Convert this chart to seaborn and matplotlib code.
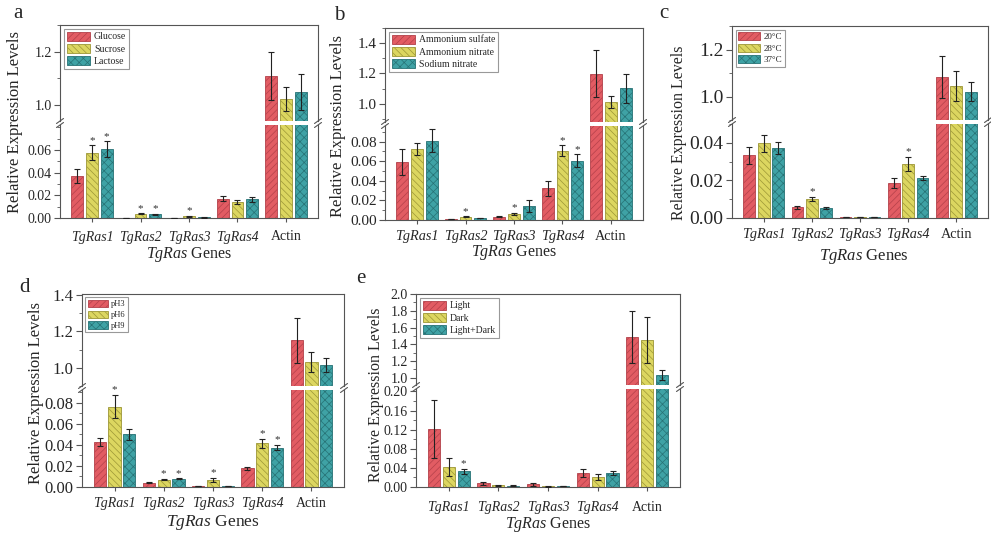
import numpy as np
import pandas as pd
import matplotlib
matplotlib.use('Agg')
import matplotlib.pyplot as plt
from matplotlib.lines import Line2D
from matplotlib.patches import Patch
from matplotlib.ticker import MultipleLocator, FixedLocator, FormatStrFormatter
from matplotlib.container import BarContainer
import seaborn as sns

# ---------------- data ----------------
genes = ['TgRas1', 'TgRas2', 'TgRas3', 'TgRas4', 'Actin']

# panel a : carbon source
a_conditions = ['Glucose', 'Sucrose', 'Lactose']
a_means = [[0.0374, 0.0003, 0.0002, 0.0170, 1.110],
           [0.0575, 0.0037, 0.0017, 0.0142, 1.022],
           [0.0608, 0.0034, 0.0005, 0.0164, 1.050]]
a_errors = [[0.0061, 0.0001, 0.0001, 0.0022, 0.090],
            [0.0065, 0.0003, 0.0004, 0.0020, 0.046],
            [0.0068, 0.0005, 0.0002, 0.0024, 0.068]]
a_stars = [(1, 0), (2, 0), (1, 1), (2, 1), (1, 2)]
a_lower_ticks = [0.00, 0.02, 0.04, 0.06]
a_upper_ticks = [1.0, 1.2]

# panel b : nitrogen source
b_conditions = ['Ammonium sulfate', 'Ammonium nitrate', 'Sodium nitrate']
b_means = [[0.0593, 0.0010, 0.0033, 0.0323, 1.198],
           [0.0727, 0.0033, 0.0063, 0.0707, 1.011],
           [0.0810, 0.0022, 0.0143, 0.0607, 1.101]]
b_errors = [[0.0137, 0.0002, 0.0006, 0.0073, 0.156],
            [0.0063, 0.0003, 0.0010, 0.0055, 0.040],
            [0.0120, 0.0003, 0.0062, 0.0063, 0.098]]
b_stars = [(1, 1), (1, 2), (1, 3), (2, 3)]
b_lower_ticks = [0.00, 0.02, 0.04, 0.06, 0.08]
b_upper_ticks = [1.0, 1.2, 1.4]

# panel c : temperature
c_conditions = ['20°C', '28°C', '37°C']
c_means = [[0.0334, 0.0056, 0.0004, 0.0188, 1.083],
           [0.0397, 0.0103, 0.0006, 0.0287, 1.044],
           [0.0372, 0.0052, 0.0004, 0.0212, 1.021]]
c_errors = [[0.0046, 0.0010, 0.0001, 0.0027, 0.090],
            [0.0046, 0.0010, 0.0001, 0.0038, 0.064],
            [0.0030, 0.0005, 0.0001, 0.0010, 0.042]]
c_stars = [(1, 1), (1, 3)]
c_lower_ticks = [0.00, 0.02, 0.04]
c_upper_ticks = [1.0, 1.2]

# panel d : pH
d_conditions = ['pH3', 'pH6', 'pH9']
d_means = [[0.0426, 0.0042, 0.0006, 0.0176, 1.150],
           [0.0762, 0.0070, 0.0064, 0.0416, 1.030],
           [0.0499, 0.0077, 0.0006, 0.0374, 1.016]]
d_errors = [[0.0035, 0.0003, 0.0001, 0.0015, 0.126],
            [0.0110, 0.0005, 0.0020, 0.0042, 0.054],
            [0.0050, 0.0005, 0.0001, 0.0025, 0.037]]
d_stars = [(1, 0), (1, 1), (2, 1), (1, 2), (1, 3), (2, 3)]
d_lower_ticks = [0.00, 0.02, 0.04, 0.06, 0.08]
d_upper_ticks = [1.0, 1.2, 1.4]

# panel e : light
e_conditions = ['Light', 'Dark', 'Light+Dark']
e_means = [[0.1210, 0.0078, 0.0057, 0.0290, 1.490],
           [0.0424, 0.0035, 0.0020, 0.0212, 1.450],
           [0.0325, 0.0030, 0.0020, 0.0290, 1.035]]
e_errors = [[0.0600, 0.0030, 0.0030, 0.0090, 0.310],
            [0.0190, 0.0010, 0.0010, 0.0060, 0.270],
            [0.0060, 0.0010, 0.0008, 0.0040, 0.055]]
e_stars = [(2, 0)]
e_lower_ticks = [0.00, 0.04, 0.08, 0.12, 0.16, 0.20]
e_upper_ticks = [1.0, 1.2, 1.4, 1.6, 1.8, 2.0]

# ---------------- style ----------------
sns.set_style('ticks')
plt.rcParams['font.family'] = ['Liberation Serif', 'DejaVu Serif']
plt.rcParams['mathtext.fontset'] = 'custom'
plt.rcParams['mathtext.it'] = 'Liberation Serif:italic'
plt.rcParams['mathtext.rm'] = 'Liberation Serif'
plt.rcParams['hatch.linewidth'] = 0.5
plt.rcParams['axes.linewidth'] = 0.8

fill_colors = ['#E25C63', '#DCD660', '#3FA2A5']
edge_colors = ['#B3414A', '#9C9636', '#277275']
hatches = ['/////', '\\\\\\\\\\', 'xxxx']
spine_color = '#555555'

W, H = 991, 534
fig = plt.figure(figsize=(W / 100, H / 100), dpi=100)


def fx(px):
    return px / W


def fy(py):
    return 1 - py / H


panels = [
    dict(letter='a', letter_pos=(13, 18), conds=a_conditions, means=a_means, errs=a_errors,
         stars=a_stars, box=(60, 25, 318, 218, 123), low=(0, 0.082), up=(0.94, 1.30),
         low_ticks=a_lower_ticks, up_ticks=a_upper_ticks, low_minor=0.01, up_minor=0.1,
         ytick_fs=10, xtick_fs=10, xtick_pad=6, ylab=(15, 122, 12), xlab=(189, 255, 11.5), leg_fs=7),
    dict(letter='b', letter_pos=(334, 20), conds=b_conditions, means=b_means, errs=b_errors,
         stars=b_stars, box=(385, 28, 643, 220, 124), low=(0, 0.096), up=(0.88, 1.50),
         low_ticks=b_lower_ticks, up_ticks=b_upper_ticks, low_minor=0.01, up_minor=0.1,
         ytick_fs=11, xtick_fs=10.3, xtick_pad=4, ylab=(338, 126, 12), xlab=(514, 252, 11.5), leg_fs=7),
    dict(letter='c', letter_pos=(659, 18), conds=c_conditions, means=c_means, errs=c_errors,
         stars=c_stars, box=(732, 26, 988, 218, 122), low=(0, 0.050), up=(0.90, 1.30),
         low_ticks=c_lower_ticks, up_ticks=c_upper_ticks, low_minor=0.01, up_minor=0.1,
         ytick_fs=14, xtick_fs=10.3, xtick_pad=4, ylab=(679, 133, 11.5), xlab=(864, 256, 12), leg_fs=6.5),
    dict(letter='d', letter_pos=(19, 292), conds=d_conditions, means=d_means, errs=d_errors,
         stars=d_stars, box=(82, 294, 344, 487, 388), low=(0, 0.092), up=(0.90, 1.405),
         low_ticks=d_lower_ticks, up_ticks=d_upper_ticks, low_minor=0.01, up_minor=0.1,
         ytick_fs=12, xtick_fs=10, xtick_pad=4, ylab=(36, 393, 12), xlab=(213, 523, 12.5), leg_fs=6),
    dict(letter='e', letter_pos=(356, 283), conds=e_conditions, means=e_means, errs=e_errors,
         stars=e_stars, box=(416, 294, 680, 487, 387), low=(0, 0.205), up=(0.915, 2.0),
         low_ticks=e_lower_ticks, up_ticks=e_upper_ticks, low_minor=0.02, up_minor=0.1,
         ytick_fs=10, xtick_fs=10, xtick_pad=7, ylab=(376, 395, 11.5), xlab=(548, 525, 11.5), leg_fs=7),
]


def style_y(ax, ticks, minor, lim, fmt, fs):
    ax.set_ylim(*lim)
    ax.yaxis.set_major_locator(FixedLocator(ticks))
    ax.yaxis.set_minor_locator(MultipleLocator(minor))
    ax.yaxis.set_major_formatter(FormatStrFormatter(fmt))
    ax.tick_params(axis='y', which='major', direction='out', length=4, width=0.8,
                   color=spine_color, labelsize=fs, pad=2, right=False)
    ax.tick_params(axis='y', which='minor', direction='out', length=2, width=0.6,
                   color=spine_color, right=False)
    for s in ax.spines.values():
        s.set_color(spine_color)
        s.set_linewidth(0.8)


for p in panels:
    L, T, R, B, K = p['box']
    gap = 2
    ax_up = fig.add_axes([fx(L), fy(K - gap), fx(R) - fx(L), fy(T) - fy(K - gap)])
    ax_lo = fig.add_axes([fx(L), fy(B), fx(R) - fx(L), fy(K + gap) - fy(B)])
    conds, means, errs = p['conds'], p['means'], p['errs']
    df = pd.DataFrame({'gene': np.tile(genes, len(conds)),
                       'cond': np.repeat(conds, len(genes)),
                       'value': np.ravel(means)})
    bar_sets = {}
    for ax in (ax_up, ax_lo):
        sns.barplot(data=df, x='gene', y='value', hue='cond', order=genes, hue_order=conds,
                    palette=fill_colors, saturation=1, width=0.9, gap=0.18,
                    errorbar=None, legend=False, ax=ax)
        bcs = [c for c in ax.containers if isinstance(c, BarContainer)]
        bar_sets[id(ax)] = bcs
        for i, cont in enumerate(bcs):
            for j, bar in enumerate(cont.patches):
                bar.set_hatch(hatches[i])
                bar.set_edgecolor(edge_colors[i])
                bar.set_linewidth(0.6)
                xc = bar.get_x() + bar.get_width() / 2
                ax.errorbar(xc, means[i][j], yerr=errs[i][j], fmt='none', ecolor='#222222',
                            elinewidth=0.8, capsize=2.5, capthick=0.8, zorder=3)
        ax.set_xlim(-0.66, 4.66)
        ax.set_xlabel('')
        ax.set_ylabel('')

    # stars
    lo_bars = bar_sets[id(ax_lo)]
    for (i, j) in p['stars']:
        bar = lo_bars[i].patches[j]
        xc = bar.get_x() + bar.get_width() / 2
        ax_lo.annotate('*', xy=(xc, means[i][j] + errs[i][j]), xytext=(0, 0.5),
                       textcoords='offset points', ha='center', va='bottom',
                       fontsize=8, color='#333333')

    style_y(ax_lo, p['low_ticks'], p['low_minor'], p['low'], '%.2f', p['ytick_fs'])
    style_y(ax_up, p['up_ticks'], p['up_minor'], p['up'], '%.1f', p['ytick_fs'])

    ax_up.spines['bottom'].set_visible(False)
    ax_up.tick_params(axis='x', bottom=False, labelbottom=False)
    ax_lo.spines['top'].set_visible(False)
    ax_lo.set_xticks(range(len(genes)))
    ax_lo.set_xticklabels(genes)
    ax_lo.tick_params(axis='x', direction='out', length=3, width=0.8, color=spine_color,
                      labelsize=p['xtick_fs'], pad=p['xtick_pad'])
    for lbl in ax_lo.get_xticklabels():
        if lbl.get_text() != 'Actin':
            lbl.set_fontstyle('italic')

    # legend
    handles = [Patch(facecolor=fill_colors[i], edgecolor=edge_colors[i], hatch=hatches[i],
                     linewidth=0.6, label=c) for i, c in enumerate(conds)]
    leg = ax_up.legend(handles=handles, loc='upper left', fontsize=p['leg_fs'], frameon=True,
                       fancybox=False, edgecolor='#999999', framealpha=1, borderpad=0.3,
                       labelspacing=0.25, handlelength=2.4, handleheight=1.0,
                       handletextpad=0.4, borderaxespad=0.4)
    leg.get_frame().set_linewidth(0.8)

    # break marks
    for xs in (L, R):
        for yc in (K - gap, K + gap):
            fig.add_artist(Line2D([fx(xs - 3.5), fx(xs + 3.5)], [fy(yc + 2.5), fy(yc - 2.5)],
                                  transform=fig.transFigure, color=spine_color, lw=0.8))

    # texts
    lx, ly = p['letter_pos']
    fig.text(fx(lx), fy(ly), p['letter'], fontsize=15, va='baseline', ha='left')
    yx, yy, yfs = p['ylab']
    fig.text(fx(yx), fy(yy), 'Relative Expression Levels', rotation=90,
             ha='center', va='center', fontsize=yfs)
    xx, xy, xfs = p['xlab']
    fig.text(fx(xx), fy(xy), r'$\mathit{TgRas}$ Genes', ha='center', va='center', fontsize=xfs)

fig.savefig('out.png', dpi=100)
